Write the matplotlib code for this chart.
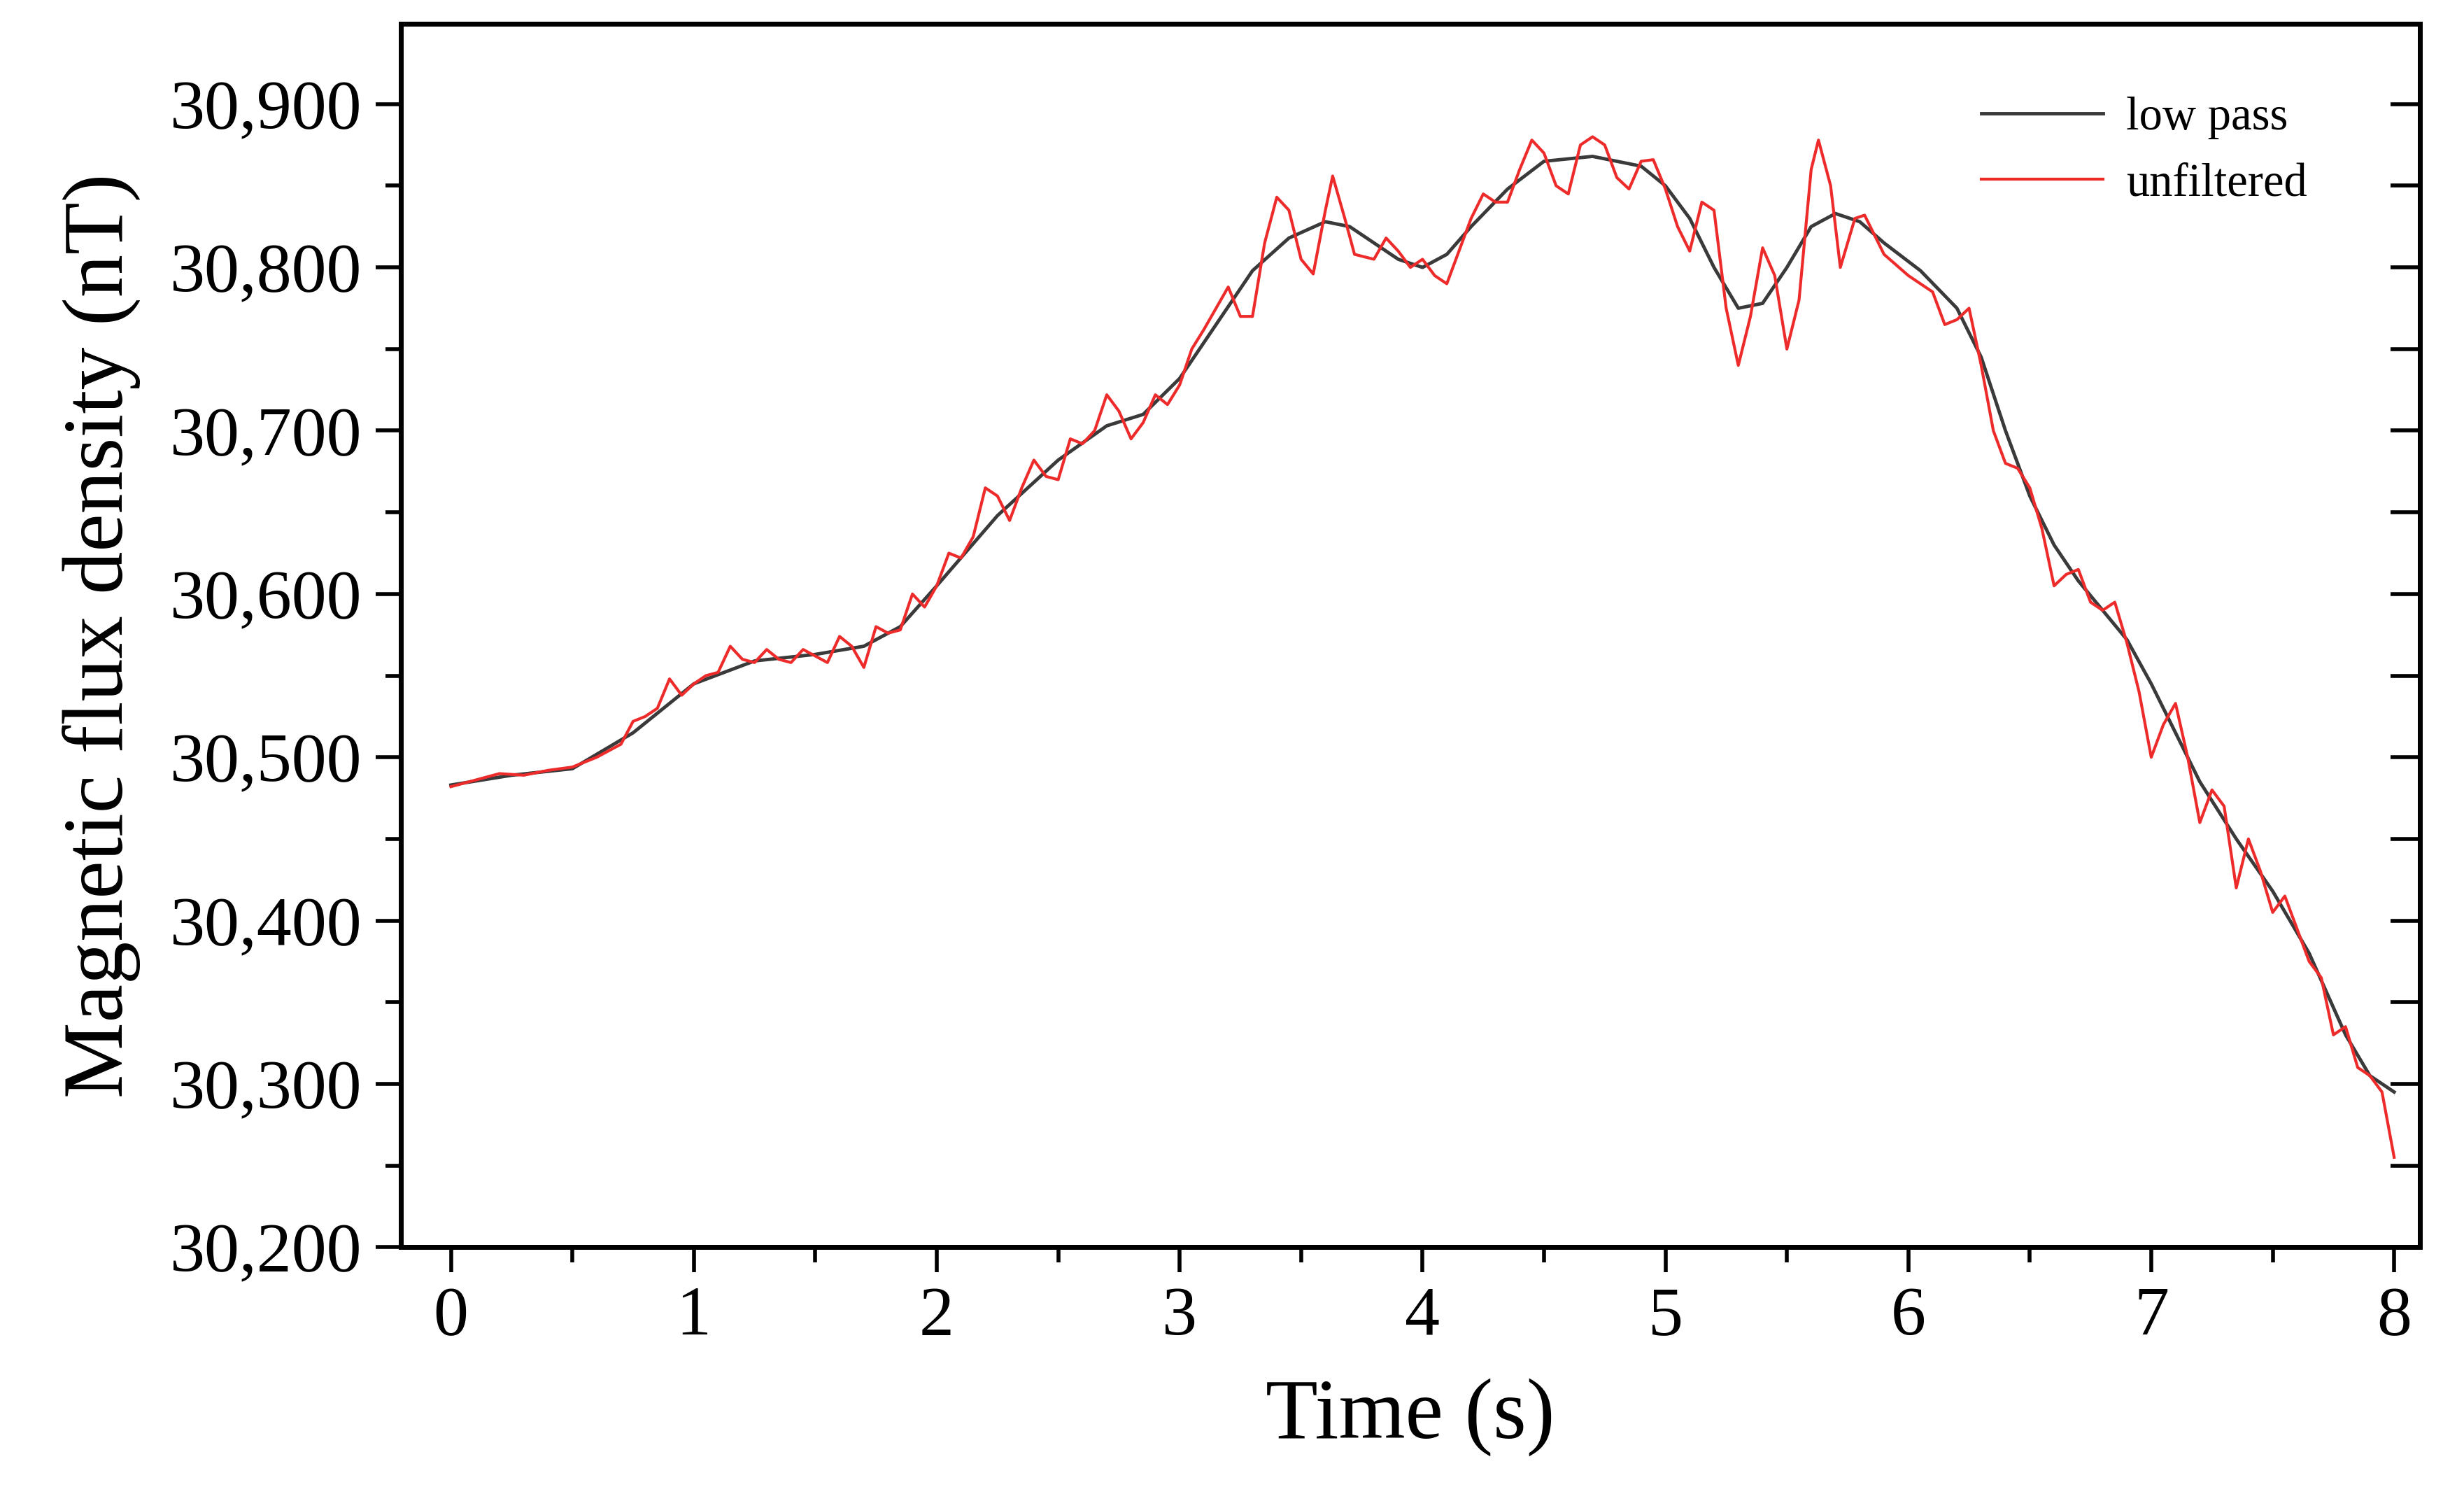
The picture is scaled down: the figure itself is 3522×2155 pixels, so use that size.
import matplotlib
matplotlib.use("Agg")
import matplotlib.pyplot as plt
from matplotlib.ticker import MultipleLocator, FuncFormatter

lp_t = [0,0.25,0.5,0.75,1.0,1.25,1.5,1.7,1.85,2.0,2.25,2.5,2.7,2.85,3.0,3.15,3.3,3.45,3.6,3.7,3.8,3.9,4.0,4.1,4.2,4.35,4.5,4.7,4.9,5.0,5.1,5.2,5.3,5.4,5.5,5.6,5.7,5.8,5.9,6.05,6.2,6.3,6.4,6.5,6.6,6.7,6.8,6.9,7.0,7.1,7.2,7.35,7.5,7.65,7.8,7.9,8.0]
lp_v = [30483,30489,30493,30515,30545,30559,30563,30568,30580,30605,30648,30682,30703,30710,30732,30765,30798,30818,30828,30825,30815,30805,30800,30808,30825,30848,30865,30868,30862,30850,30830,30800,30775,30778,30800,30825,30833,30828,30815,30798,30775,30745,30700,30660,30630,30608,30590,30572,30545,30515,30485,30450,30418,30380,30330,30305,30295]

uf_t = [0.0,0.1,0.2,0.3,0.4,0.5,0.6,0.7,0.75,0.8,0.85,0.9,0.95,1.0,1.05,1.1,1.15,1.2,1.25,1.3,1.35,1.4,1.45,1.5,1.55,1.6,1.65,1.7,1.75,1.8,1.85,1.9,1.95,2.0,2.05,2.1,2.15,2.2,2.25,2.3,2.35,2.4,2.45,2.5,2.55,2.6,2.65,2.7,2.75,2.8,2.85,2.9,2.95,3.0,3.05,3.1,3.15,3.2,3.25,3.3,3.35,3.4,3.45,3.5,3.55,3.6,3.63,3.68,3.72,3.8,3.85,3.9,3.95,4.0,4.05,4.1,4.15,4.2,4.25,4.3,4.35,4.4,4.45,4.5,4.55,4.6,4.65,4.7,4.75,4.8,4.85,4.9,4.95,5.0,5.05,5.1,5.15,5.2,5.25,5.3,5.35,5.4,5.45,5.5,5.55,5.6,5.63,5.68,5.72,5.78,5.82,5.9,6.0,6.05,6.1,6.15,6.2,6.25,6.3,6.35,6.4,6.45,6.5,6.55,6.6,6.65,6.7,6.75,6.8,6.85,6.9,6.95,7.0,7.05,7.1,7.15,7.2,7.25,7.3,7.35,7.4,7.45,7.5,7.55,7.6,7.65,7.7,7.75,7.8,7.85,7.9,7.95,8.0]
uf_v = [30482,30486,30490,30489,30492,30494,30500,30508,30522,30525,30530,30548,30538,30545,30550,30552,30568,30560,30558,30566,30560,30558,30566,30562,30558,30574,30568,30555,30580,30576,30578,30600,30592,30605,30625,30622,30635,30665,30660,30645,30665,30682,30672,30670,30695,30692,30700,30722,30712,30695,30705,30722,30716,30728,30750,30762,30775,30788,30770,30770,30815,30843,30835,30805,30796,30835,30856,30830,30808,30805,30818,30810,30800,30805,30795,30790,30810,30830,30845,30840,30840,30860,30878,30870,30850,30845,30875,30880,30875,30855,30848,30865,30866,30848,30825,30810,30840,30835,30775,30740,30770,30812,30795,30750,30780,30860,30878,30850,30800,30830,30832,30808,30795,30790,30785,30765,30768,30775,30740,30700,30680,30677,30665,30640,30605,30612,30615,30595,30590,30595,30570,30540,30500,30520,30533,30500,30460,30480,30470,30420,30450,30430,30405,30415,30395,30375,30365,30330,30335,30310,30305,30295,30255]

plt.rcParams['font.family'] = ['Liberation Serif', 'DejaVu Serif']
fig = plt.figure(figsize=(35.22, 21.55), dpi=100)
ax = fig.add_axes([0.1626, 0.173, 0.8194, 0.811])
ax.plot(lp_t, lp_v, color='#3a3a3a', lw=3.5, label='low pass')
ax.plot(uf_t, uf_v, color='#ee2b2b', lw=3.0, label='unfiltered')
ax.set_xlim(-0.207, 8.105)
ax.set_ylim(30200, 30949)
ax.xaxis.set_major_locator(MultipleLocator(1))
ax.xaxis.set_minor_locator(MultipleLocator(0.5))
ax.yaxis.set_major_locator(MultipleLocator(100))
ax.yaxis.set_minor_locator(MultipleLocator(50))
ax.yaxis.set_major_formatter(FuncFormatter(lambda v, p: f"{int(round(v)):,}"))
for s in ax.spines.values():
    s.set_linewidth(5)
ax.tick_params(which='both', direction='out', width=4, labelsize=72, pad=14)
ax.tick_params(which='major', length=26)
ax.tick_params(which='minor', length=16)

axr = ax.twinx()
axr.set_ylim(ax.get_ylim())
axr.yaxis.set_major_locator(MultipleLocator(50))
axr.tick_params(axis='y', direction='in', length=30, width=4, labelright=False)
for s in axr.spines.values():
    s.set_linewidth(5)

ax.set_xlabel('Time (s)', fontsize=88, labelpad=30)
ax.set_ylabel('Magnetic flux density (nT)', fontsize=88, labelpad=30)
ax.legend(loc='upper right', fontsize=48, frameon=False, handlelength=2.6,
          handletextpad=0.5, bbox_to_anchor=(0.965, 0.975))
fig.savefig('out.png', dpi=100)
